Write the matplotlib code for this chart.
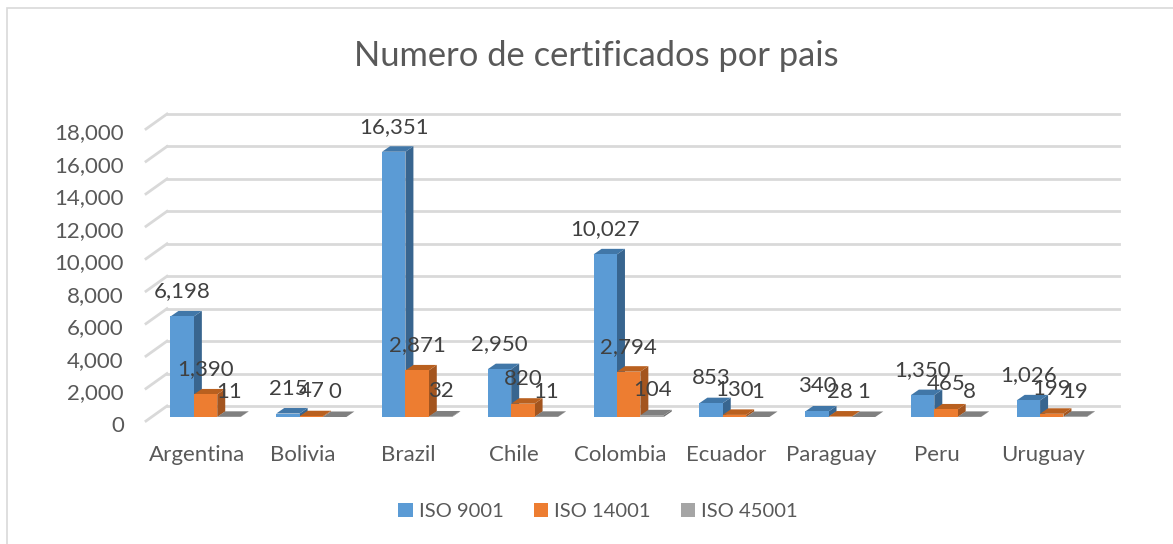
import numpy as np
import matplotlib
matplotlib.use('Agg')
import matplotlib.pyplot as plt
from matplotlib.patches import Polygon
from matplotlib.transforms import Affine2D

# data
paises = ['Argentina', 'Bolivia', 'Brazil', 'Chile', 'Colombia', 'Ecuador', 'Paraguay', 'Peru', 'Uruguay']
iso9001 = [6198, 215, 16351, 2950, 10027, 853, 340, 1350, 1026]
iso14001 = [1390, 47, 2871, 820, 2794, 130, 28, 465, 199]
iso45001 = [11, 0, 32, 11, 104, 1, 1, 8, 19]
nombres = ['ISO 9001', 'ISO 14001', 'ISO 45001']
yticks = np.arange(0, 18001, 2000)

W, H = 1173, 544
col_front = ['#5B9BD5', '#ED7D31', '#A5A5A5']
col_side = ['#38658F', '#A3551F', '#6F6F6F']
col_top = ['#4177A8', '#B9601F', '#808080']
col_txt = '#595959'
col_grid = '#D9D9D9'

plt.rcParams['font.family'] = ['Lato', 'DejaVu Sans']

fig = plt.figure(figsize=(W / 100, H / 100), dpi=100)
fig.patch.set_facecolor('white')

# axes = front plane of the fake 3d box, in pixels
x0, x1, y0, y1 = 146, 1098, 421, 129
ax = fig.add_axes([x0 / W, 1 - y0 / H, (x1 - x0) / W, (y0 - y1) / H])
ax.set_xlim(-0.5, 8.5)
ax.set_ylim(0, 18000)
ax.patch.set_alpha(0)
for s in ax.spines.values():
    s.set_visible(False)

# outer chart border
fig.add_artist(plt.Rectangle((7 / W, -0.01), 1.2, 1 - 8 / H + 0.01, transform=fig.transFigure,
                             fc='none', ec=col_grid, lw=1.2))

# back wall grid and left wall
back = ax.transData + Affine2D().translate(21, 15)
for v in yticks:
    ax.plot([-0.5, 8.5], [v, v], color=col_grid, lw=2, transform=back, clip_on=False, zorder=1)
    p0 = ax.transData.transform((-0.5, v))
    ax.plot([p0[0], p0[0] + 21], [p0[1], p0[1] + 15], color=col_grid, lw=2,
            transform=None, clip_on=False, zorder=1)

# bars, later series sit in front of the earlier ones
bw = 0.221
dx, dy = 8, 5.5
shift = ax.transData + Affine2D().translate(5.6, 4)

for k, vals in enumerate([iso9001, iso14001, iso45001]):
    pos = np.arange(len(paises)) + (k - 1) * bw + 0.01
    z = 3 + 0.1 * k
    ax.bar(pos, vals, bw, color=col_front[k], transform=shift, zorder=z + 0.02, clip_on=False)
    for p, v in zip(pos, vals):
        xl, yb = shift.transform((p - bw / 2, 0))
        xr, yt = shift.transform((p + bw / 2, v))
        ax.add_patch(Polygon([(xr, yb), (xr + dx, yb + dy), (xr + dx, yt + dy), (xr, yt)],
                             closed=True, fc=col_side[k], ec='none', transform=None, zorder=z, clip_on=False))
        ax.add_patch(Polygon([(xl, yt), (xr, yt), (xr + dx, yt + dy), (xl + dx, yt + dy)],
                             closed=True, fc=col_top[k], ec='none', transform=None, zorder=z + 0.01, clip_on=False))
        ax.annotate(f'{v:,}', (p, v), xycoords=shift, xytext=(0, 18), textcoords='offset points',
                    ha='center', va='center', fontsize=16, color='#404040', zorder=10, annotation_clip=False)

ax.set_yticks(yticks)
ax.set_yticklabels([f'{v:,}' for v in yticks], fontsize=16, color=col_txt)
ax.set_xticks(np.arange(len(paises)))
ax.set_xticklabels(paises, fontsize=16, color=col_txt)
ax.tick_params(axis='both', length=0)
ax.tick_params(axis='y', pad=16)
ax.tick_params(axis='x', pad=17)
for t in ax.get_yticklabels():
    t.set_transform(t.get_transform() + Affine2D().translate(0, -2.5))
for t in ax.get_xticklabels():
    t.set_transform(t.get_transform() + Affine2D().translate(-2, 0))

fig.text(596 / W, 1 - 56 / H, 'Numero de certificados por pais', ha='center', va='center',
         fontsize=24.8, color=col_txt)

# legend
handles = [plt.Rectangle((0, 0), 1, 1, fc=c) for c in col_front]
fig.legend(handles, nombres, loc='center', bbox_to_anchor=(598 / W, 1 - 511.5 / H), ncol=3, frameon=False,
           fontsize=14.5, labelcolor=col_txt, handlelength=0.72, handleheight=0.72, handletextpad=0.3,
           columnspacing=1.5)

fig.savefig('out.png', dpi=100)
